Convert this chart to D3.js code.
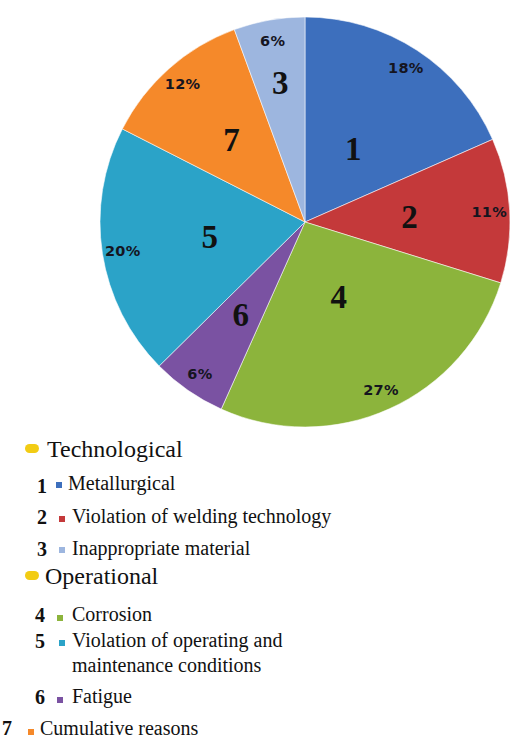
<!DOCTYPE html>
<html>
<head>
<meta charset="utf-8">
<script src="https://cdn.jsdelivr.net/npm/d3@7/dist/d3.min.js"></script>
<style>
html,body{margin:0;padding:0;background:#fff;}
svg{display:block;}
</style>
</head>
<body>
<svg id="chart" width="511" height="740"></svg>
<script>
// ---- data ----
const causeIds = [1, 2, 3, 4, 5, 6, 7];
const causeNames = [
  "Metallurgical",
  "Violation of welding technology",
  "Inappropriate material",
  "Corrosion",
  "Violation of operating and maintenance conditions",
  "Fatigue",
  "Cumulative reasons"
];
const causeGroups = ["Technological", "Technological", "Technological",
                     "Operational", "Operational", "Operational", null];
// pie order (clockwise from 12 o'clock) and share of failures, %
const sliceIds = [1, 2, 4, 6, 5, 7, 3];
const sliceValues = [18.4, 11.4, 26.9, 5.9, 19.9, 11.9, 5.6];

// ---- styles / layout ----
const colors = {1:"#3d6fbd", 2:"#c4393a", 3:"#9db6df", 4:"#8cb43c", 5:"#2ba3c8", 6:"#7a52a2", 7:"#f5892a"};
const numberRadius = {1:0.43, 2:0.51, 4:0.40, 6:0.55, 5:0.47, 7:0.54, 3:0.69};

const svg = d3.select("#chart");
const cx = 305, cy = 222, R = 205;

const pieData = sliceIds.map((id, i) => ({id, value: sliceValues[i]}));
const pie = d3.pie().sort(null).value(d => d.value);
const arcs = pie(pieData);
const arc = d3.arc().innerRadius(0).outerRadius(R);

const gPie = svg.append("g").attr("transform", `translate(${cx},${cy})`);
gPie.selectAll("path.slice").data(arcs).join("path")
  .attr("class", "slice")
  .attr("d", arc)
  .attr("fill", d => colors[d.data.id])
  .attr("stroke", "rgba(255,255,255,0.55)")
  .attr("stroke-width", 1);

// percent labels
const pctArc = d3.arc().innerRadius(R * 0.9).outerRadius(R * 0.9);
gPie.selectAll("text.pct").data(arcs).join("text")
  .attr("class", "pct")
  .attr("transform", d => `translate(${pctArc.centroid(d)})`)
  .attr("text-anchor", "middle")
  .attr("dy", "0.36em")
  .style("font-family", "'DejaVu Sans', sans-serif")
  .style("font-weight", "bold")
  .style("font-size", "14.5px")
  .style("letter-spacing", "0.3px")
  .attr("fill", "#15151f")
  .text(d => Math.round(d.data.value) + "%");

// number labels
gPie.selectAll("text.num").data(arcs).join("text")
  .attr("class", "num")
  .attr("transform", d => {
    const r = R * numberRadius[d.data.id];
    const a = (d.startAngle + d.endAngle) / 2;
    return `translate(${Math.sin(a) * r},${-Math.cos(a) * r})`;
  })
  .attr("text-anchor", "middle")
  .attr("dy", "0.35em")
  .style("font-family", "'Liberation Serif', 'Times New Roman', serif")
  .style("font-weight", "bold")
  .style("font-size", "33px")
  .attr("fill", "#111")
  .text(d => d.data.id);

// ---- legend ----
const serif = "'Liberation Serif', 'Times New Roman', serif";
const groupPos = {"Technological": {y: 457, px: 25, tx: 47}, "Operational": {y: 584, px: 25, tx: 45}};
const rowPos = {
  1: {nx: 37, ny: 493, mx: 56, my: 482, tx: 68, ty: 490},
  2: {nx: 37, ny: 524, mx: 59, my: 516, tx: 72, ty: 523},
  3: {nx: 37, ny: 556, mx: 59, my: 547, tx: 72, ty: 555},
  4: {nx: 35, ny: 622, mx: 57, my: 615, tx: 72, ty: 621},
  5: {nx: 35, ny: 648, mx: 59, my: 640, tx: 72, ty: 647},
  6: {nx: 35, ny: 704, mx: 57, my: 697, tx: 72, ty: 703},
  7: {nx: 2, ny: 735, mx: 28, my: 729, tx: 40, ty: 735}
};
const wrapAt = {5: ["Violation of operating and", "maintenance conditions"]};

const leg = svg.append("g");
const groups = Array.from(new Set(causeGroups.filter(g => g)));
groups.forEach(gname => {
  const p = groupPos[gname];
  leg.append("rect").attr("x", p.px).attr("y", p.y - 13).attr("width", 14).attr("height", 9)
    .attr("rx", 4.5).attr("fill", "#f2cc14");
  leg.append("text").attr("x", p.tx).attr("y", p.y)
    .style("font-family", serif).style("font-size", "24px").attr("fill", "#111")
    .text(gname);
});

causeIds.forEach((id, i) => {
  const p = rowPos[id];
  leg.append("text").attr("x", p.nx).attr("y", p.ny)
    .style("font-family", serif).style("font-weight", "bold").style("font-size", "20px")
    .attr("fill", "#111").text(id);
  leg.append("rect").attr("x", p.mx).attr("y", p.my).attr("width", 6).attr("height", 6)
    .attr("fill", colors[id]);
  const lines = wrapAt[id] || [causeNames[i]];
  lines.forEach((ln, j) => {
    leg.append("text").attr("x", p.tx).attr("y", p.ty + j * 25)
      .style("font-family", serif).style("font-size", "20px").attr("fill", "#111")
      .text(ln);
  });
});
</script>
</body>
</html>
